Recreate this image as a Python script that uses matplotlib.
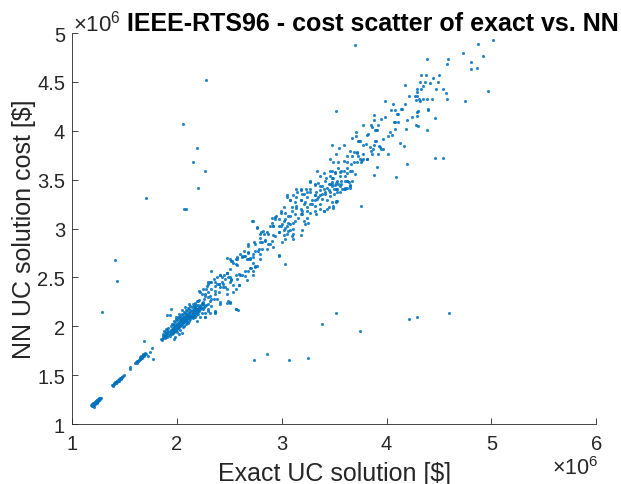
import numpy as np
import matplotlib.pyplot as plt

# costs in units of 1e6 $  (exact, NN) pairs
cluster_a = [(1.185, 1.19), (1.19, 1.18), (1.19, 1.20), (1.195, 1.19), (1.20, 1.20), (1.20, 1.21),
             (1.20, 1.185), (1.205, 1.20), (1.21, 1.21), (1.21, 1.22), (1.21, 1.195), (1.215, 1.21),
             (1.215, 1.225), (1.22, 1.22), (1.22, 1.23), (1.22, 1.205), (1.225, 1.22), (1.225, 1.235),
             (1.23, 1.23), (1.23, 1.24), (1.235, 1.225), (1.235, 1.245), (1.24, 1.24), (1.24, 1.25),
             (1.245, 1.235), (1.25, 1.25), (1.25, 1.26), (1.255, 1.245), (1.26, 1.25), (1.26, 1.265),
             (1.265, 1.26), (1.27, 1.265), (1.275, 1.27), (1.21, 1.17), (1.24, 1.215)]

cluster_b = [(1.385, 1.395), (1.39, 1.40), (1.395, 1.39), (1.40, 1.405), (1.40, 1.415), (1.405, 1.41),
             (1.41, 1.415), (1.41, 1.425), (1.415, 1.42), (1.42, 1.43), (1.42, 1.42), (1.425, 1.435),
             (1.43, 1.44), (1.43, 1.425), (1.435, 1.445), (1.44, 1.45), (1.44, 1.435), (1.445, 1.455),
             (1.45, 1.46), (1.45, 1.445), (1.455, 1.46), (1.46, 1.47), (1.465, 1.465), (1.47, 1.475),
             (1.475, 1.48), (1.48, 1.485), (1.49, 1.49), (1.50, 1.505), (1.55, 1.56), (1.555, 1.585)]

cluster_c = [(1.60, 1.625), (1.61, 1.63), (1.615, 1.62), (1.62, 1.64), (1.625, 1.645), (1.63, 1.64),
             (1.635, 1.66), (1.64, 1.655), (1.645, 1.665), (1.65, 1.67), (1.65, 1.69), (1.655, 1.68),
             (1.66, 1.70), (1.665, 1.675), (1.67, 1.69), (1.675, 1.71), (1.68, 1.72), (1.685, 1.70),
             (1.69, 1.71), (1.70, 1.73), (1.71, 1.72), (1.72, 1.70), (1.745, 1.74), (1.76, 1.78),
             (1.69, 1.85), (1.77, 1.67)]

cluster_core = [(1.85, 1.87), (1.86, 1.86), (1.87, 1.88), (1.87, 1.90), (1.88, 1.89), (1.89, 1.91),
                (1.89, 1.88), (1.90, 1.90), (1.90, 1.92), (1.91, 1.89), (1.91, 1.93), (1.92, 1.91),
                (1.92, 1.94), (1.93, 1.92), (1.93, 1.95), (1.93, 1.90), (1.94, 1.93), (1.94, 1.96),
                (1.95, 1.94), (1.95, 1.92), (1.95, 1.97), (1.96, 1.95), (1.96, 1.98), (1.96, 1.93),
                (1.97, 1.96), (1.97, 1.99), (1.97, 1.94), (1.98, 1.97), (1.98, 2.00), (1.98, 1.95),
                (1.98, 1.89), (1.99, 1.98), (1.99, 2.01), (1.99, 1.96), (2.00, 1.99), (2.00, 2.02),
                (2.00, 1.97), (2.01, 2.00), (2.01, 2.03), (2.01, 1.98), (2.02, 2.01), (2.02, 2.04),
                (2.02, 1.99), (2.03, 2.02), (2.03, 2.05), (2.03, 2.00), (2.04, 2.03), (2.04, 2.06),
                (2.04, 2.01), (2.05, 2.04), (2.05, 2.07), (2.05, 2.02), (2.06, 2.05), (2.06, 2.08),
                (2.06, 2.03), (2.07, 2.06), (2.07, 2.09), (2.07, 2.04), (2.08, 2.07), (2.08, 2.10),
                (2.08, 2.05), (2.09, 2.08), (2.09, 2.11), (2.09, 2.06), (2.10, 2.09), (2.10, 2.12),
                (2.10, 2.07), (2.11, 2.10), (2.11, 2.13), (2.11, 2.08), (2.12, 2.11), (2.12, 2.14),
                (2.12, 2.09), (2.13, 2.12), (2.13, 2.15), (2.13, 2.10), (2.14, 2.13), (2.14, 2.16),
                (2.14, 2.11), (2.15, 2.14), (2.15, 2.17), (2.15, 2.12), (2.16, 2.15), (2.16, 2.18),
                (2.16, 2.12), (2.17, 2.16), (2.17, 2.19), (2.18, 2.17), (2.18, 2.14), (2.19, 2.18),
                (2.19, 2.15), (2.20, 2.19), (2.20, 2.16), (2.21, 2.20), (2.22, 2.21), (2.22, 2.18),
                (2.23, 2.22), (2.24, 2.19), (2.25, 2.23), (1.91, 2.12), (1.93, 2.12), (1.88, 1.95),
                (1.90, 1.97), (1.92, 1.98), (1.94, 2.00), (1.96, 2.02), (1.98, 2.04), (2.00, 2.06),
                (2.02, 2.08), (2.04, 2.10), (2.06, 2.12), (2.08, 2.14), (2.10, 2.16), (2.12, 2.18),
                (2.14, 2.20), (2.16, 2.21), (2.18, 2.22), (2.00, 1.94), (2.03, 1.96), (2.06, 1.99),
                (2.09, 2.02), (2.12, 2.05), (2.15, 2.08), (2.19, 2.05), (2.22, 2.10), (2.27, 2.09),
                (2.30, 2.16), (2.32, 2.26), (2.25, 2.25), (2.26, 2.20), (2.28, 2.22), (2.05, 1.93),
                (2.02, 1.92), (1.97, 1.87), (2.07, 2.00), (2.11, 2.03), (2.13, 2.07), (2.17, 2.10),
                (2.20, 2.13), (1.95, 2.02), (1.97, 2.05), (1.99, 2.07), (2.01, 2.09), (2.03, 2.11),
                (2.05, 2.13), (2.07, 2.15), (2.09, 2.17), (2.11, 2.19), (2.13, 2.21), (2.15, 2.23),
                (2.17, 2.24), (2.19, 2.26), (2.21, 2.27), (2.05, 2.17), (2.08, 2.20), (2.12, 2.23),
                (1.94, 2.18), (1.99, 2.10), (2.02, 2.13), (1.87, 1.92), (1.89, 1.94), (1.91, 1.96),
                (2.10, 2.04), (2.14, 2.09), (2.18, 2.12), (2.21, 2.16), (2.23, 2.19), (2.24, 2.24),
                (2.26, 2.28), (1.97, 2.01), (2.03, 2.07), (2.09, 2.13), (2.13, 2.17), (2.17, 2.20),
                (2.20, 2.22)]

band_low = [(2.24, 2.33), (2.27, 2.31), (2.30, 2.35), (2.33, 2.38), (2.36, 2.41), (2.40, 2.43),
            (2.43, 2.45), (2.46, 2.48), (2.49, 2.50), (2.52, 2.48), (2.56, 2.52), (2.59, 2.53),
            (2.62, 2.52), (2.65, 2.51), (2.68, 2.57), (2.71, 2.60), (2.75, 2.61), (2.73, 2.52),
            (2.59, 2.42), (2.56, 2.38), (2.54, 2.35), (2.48, 2.33), (2.44, 2.40), (2.41, 2.40),
            (2.40, 2.35), (2.36, 2.33), (2.35, 2.28), (2.33, 2.21), (2.30, 2.23), (2.27, 2.21),
            (2.25, 2.18), (2.24, 2.14), (2.27, 2.09), (2.32, 2.14), (2.36, 2.14), (2.41, 2.23),
            (2.48, 2.24), (2.51, 2.24), (2.56, 2.18), (2.25, 2.38), (2.29, 2.41), (2.32, 2.45),
            (2.35, 2.48), (2.38, 2.50), (2.41, 2.52), (2.45, 2.52), (2.48, 2.55), (2.51, 2.59),
            (2.54, 2.65), (2.57, 2.63), (2.56, 2.69), (2.53, 2.67), (2.51, 2.69), (2.48, 2.70),
            (2.62, 2.72), (2.57, 2.69), (2.60, 2.74), (2.64, 2.77), (2.67, 2.69), (2.70, 2.70),
            (2.68, 2.84), (2.73, 2.74), (2.75, 2.84), (2.78, 2.79), (2.72, 3.08), (2.76, 3.02),
            (2.80, 2.96), (2.79, 2.90), (2.81, 2.86), (2.84, 2.87), (2.87, 2.84), (2.91, 2.87),
            (2.94, 2.92), (2.97, 2.96), (2.97, 2.73),
            (2.57, 2.71), (2.64, 2.72), (2.68, 2.76), (2.75, 2.77), (2.79, 2.74), (2.52, 2.67),
            (2.56, 2.64), (2.68, 2.69), (2.73, 2.65), (2.76, 2.62), (2.73, 2.57), (2.65, 2.57),
            (2.60, 2.52), (2.57, 2.48), (2.51, 2.50), (2.48, 2.55), (2.43, 2.50), (2.40, 2.43),
            (2.36, 2.45), (2.33, 2.45), (2.30, 2.45), (2.44, 2.43), (2.48, 2.38), (2.52, 2.47),
            (2.59, 2.42), (2.54, 2.42), (2.67, 2.47), (2.36, 2.36), (2.28, 2.38), (2.27, 2.33),
            (2.22, 2.35), (2.30, 2.30), (2.33, 2.28), (2.38, 2.28), (2.41, 2.25), (2.36, 2.16),
            (2.30, 2.18), (2.25, 2.23), (2.20, 2.26), (2.56, 2.18), (2.49, 2.26), (2.19, 2.16),
            (2.33, 2.57), (2.41, 2.52), (2.48, 2.55), (2.51, 2.45), (2.30, 2.43), (2.38, 2.43),
            (2.46, 2.40), (2.32, 2.31), (2.21, 2.36), (2.51, 2.25), (2.36, 2.15), (2.27, 2.14)]

band_mid = [(3.02, 2.99), (3.05, 3.03), (3.08, 3.05), (3.10, 2.92), (3.03, 2.89), (3.00, 2.86),
            (3.06, 2.98), (3.11, 3.00), (3.13, 3.08), (3.16, 3.11), (3.19, 3.15), (3.24, 3.11),
            (3.27, 3.16), (2.86, 2.96), (2.83, 2.94), (2.89, 3.03), (2.92, 3.03), (2.95, 3.13),
            (2.99, 3.16), (3.02, 3.22), (3.05, 3.34), (3.08, 3.29), (2.94, 3.10), (2.91, 3.11),
            (2.97, 3.03), (3.00, 3.05), (3.03, 3.10), (3.06, 3.13), (3.10, 3.18), (3.14, 3.23),
            (3.18, 3.20), (3.21, 3.25), (3.24, 3.22), (3.29, 3.25), (3.32, 3.29), (3.37, 3.20),
            (3.33, 3.15), (3.40, 3.18), (3.45, 3.22), (3.49, 3.21), (3.52, 3.28), (3.18, 3.29),
            (3.21, 3.35), (3.24, 3.37), (3.27, 3.40), (3.14, 3.40), (3.11, 3.34), (3.14, 3.32),
            (3.18, 3.39), (3.27, 3.48), (3.32, 3.45), (3.35, 3.47), (3.38, 3.44), (3.41, 3.49),
            (3.45, 3.46), (3.48, 3.48), (3.51, 3.45), (3.48, 3.44), (3.43, 3.42), (3.40, 3.40),
            (3.37, 3.39), (3.33, 3.37), (3.32, 3.34), (3.35, 3.32), (3.38, 3.35), (3.41, 3.37),
            (3.45, 3.39), (3.50, 3.35), (3.53, 3.40), (3.56, 3.44), (3.59, 3.40), (3.62, 3.42),
            (3.65, 3.45), (3.67, 3.49), (3.62, 3.49),
            (3.34, 3.59), (3.40, 3.57), (3.46, 3.59), (3.51, 3.57), (3.57, 3.59), (3.62, 3.57),
            (3.67, 3.59), (3.70, 3.56), (3.56, 3.54), (3.48, 3.52), (3.42, 3.52), (3.37, 3.54),
            (3.27, 3.49), (3.32, 3.46), (3.37, 3.44), (3.46, 3.46), (3.52, 3.47), (3.57, 3.46),
            (3.62, 3.49), (3.65, 3.42), (3.60, 3.40), (3.52, 3.40), (3.46, 3.37), (3.41, 3.35),
            (3.37, 3.34), (3.32, 3.34), (3.27, 3.37), (3.23, 3.40), (3.18, 3.40), (3.15, 3.37),
            (3.19, 3.35), (3.24, 3.32), (3.29, 3.29), (3.34, 3.30), (3.38, 3.30), (3.43, 3.29),
            (3.48, 3.27), (3.52, 3.27), (3.37, 3.25), (3.32, 3.23), (3.27, 3.25), (3.22, 3.27),
            (3.18, 3.29), (3.13, 3.27), (3.08, 3.29), (3.05, 3.32), (3.10, 3.22), (3.14, 3.21),
            (3.19, 3.18), (3.24, 3.18), (3.40, 3.18), (3.43, 3.20), (3.32, 3.18), (2.99, 3.18),
            (3.03, 3.16), (3.08, 3.13), (3.13, 3.15), (3.18, 3.15), (3.21, 3.08), (3.22, 3.05),
            (3.25, 3.06), (3.11, 3.06), (3.06, 3.06), (3.02, 3.08), (2.97, 3.10), (2.94, 3.12),
            (2.91, 3.06), (2.73, 3.08), (2.76, 3.01), (2.92, 3.03), (2.99, 3.03), (3.03, 3.01),
            (3.08, 2.99), (3.11, 2.94), (3.05, 2.94), (3.02, 2.93), (2.97, 2.96), (2.92, 2.93),
            (2.87, 2.94), (2.82, 2.98), (2.79, 2.94), (2.74, 2.86), (2.79, 2.86), (2.84, 2.88),
            (2.89, 2.84), (2.92, 2.81), (2.86, 2.79), (2.81, 2.79), (2.77, 2.77), (2.68, 2.82),
            (2.68, 2.75), (2.65, 2.72), (2.62, 2.71), (2.70, 2.69), (2.73, 2.71), (2.79, 2.69),
            (2.75, 2.62), (2.70, 2.60), (2.97, 2.72), (3.03, 2.64), (3.11, 2.89), (3.18, 2.93),
            (3.19, 2.99)]

band_high = [(3.72, 3.78), (3.67, 3.74), (3.62, 3.74), (3.69, 3.78), (3.65, 3.79), (3.59, 3.85),
             (3.55, 3.82), (3.52, 3.76), (3.48, 3.85), (3.46, 3.71), (3.49, 3.68), (3.54, 3.68),
             (3.59, 3.69), (3.62, 3.68), (3.66, 3.66), (3.69, 3.68), (3.72, 3.68), (3.76, 3.68),
             (3.75, 3.71), (3.78, 3.71), (3.81, 3.71), (3.65, 3.59), (3.62, 3.62), (3.59, 3.59),
             (3.60, 3.54), (3.56, 3.58), (3.54, 3.62), (3.51, 3.58), (3.48, 3.59), (3.46, 3.54),
             (3.49, 3.52), (3.53, 3.49), (3.57, 3.49), (3.60, 3.49), (3.64, 3.48), (3.65, 3.44),
             (3.60, 3.42), (3.58, 3.40), (3.54, 3.46), (3.48, 3.46), (3.50, 3.40), (3.53, 3.37),
             (3.56, 3.37), (3.46, 3.33), (3.53, 3.28), (3.49, 3.23),
             (4.39, 4.73), (4.585, 4.73), (4.575, 4.68), (4.33, 4.57), (4.375, 4.57), (4.505, 4.57),
             (4.44, 4.54), (4.415, 4.49), (4.37, 4.50), (4.32, 4.50), (4.49, 4.50), (4.18, 4.47),
             (4.35, 4.46), (4.29, 4.43), (4.33, 4.43), (4.47, 4.43), (4.536, 4.43), (4.29, 4.40),
             (4.568, 4.39), (4.21, 4.36), (4.27, 4.36), (4.29, 4.36), (4.31, 4.33), (4.35, 4.33),
             (4.39, 4.33), (4.43, 4.33), (4.58, 4.33), (4.32, 4.31), (4.28, 4.32), (3.99, 4.31),
             (4.06, 4.27), (4.18, 4.27), (4.29, 4.19), (4.40, 4.21), (4.29, 4.15), (4.04, 4.21),
             (4.14, 4.22), (4.08, 4.21), (4.10, 4.17), (4.11, 4.17), (4.24, 4.14), (4.20, 4.11),
             (4.11, 4.09), (4.07, 4.09), (4.08, 4.09), (3.99, 4.14), (3.95, 4.12), (4.46, 4.13),
             (3.88, 4.16), (3.88, 4.11), (3.85, 4.06), (3.86, 4.04), (3.78, 4.06), (3.91, 4.01),
             (3.90, 4.01), (3.89, 4.01), (3.92, 4.06), (4.19, 4.02), (4.28, 4.06), (4.30, 4.05),
             (4.39, 4.01), (4.08, 4.02), (4.03, 3.99), (3.97, 3.92), (4.05, 3.96), (4.01, 3.95),
             (3.81, 3.96), (3.71, 3.99), (3.67, 3.93), (3.73, 3.90), (3.75, 3.90), (3.71, 3.95),
             (3.78, 3.86), (3.80, 3.87), (3.84, 3.83), (3.89, 3.90), (3.90, 3.90), (3.94, 3.83),
             (3.97, 3.81), (3.87, 3.81), (3.85, 3.79), (4.13, 3.88), (4.17, 3.84), (3.92, 3.76),
             (3.86, 3.76), (4.01, 3.76), (3.78, 3.76), (3.77, 3.70), (3.81, 3.71), (3.73, 3.74),
             (3.72, 3.77), (3.91, 3.63), (3.88, 3.55), (4.09, 3.53), (4.20, 3.66), (4.46, 3.72),
             (4.54, 3.72), (4.15, 4.22), (4.30, 4.20), (4.40, 4.22), (3.82, 3.97), (3.74, 3.90),
             (3.93, 3.84), (3.95, 3.81), (3.88, 3.86)]

outliers = [(3.70, 4.88), (2.28, 4.52), (2.06, 4.07), (2.19, 3.82), (2.15, 3.68), (2.27, 3.59),
            (2.20, 3.41), (2.07, 3.20), (2.09, 3.20), (1.71, 3.31), (1.41, 2.68), (1.43, 2.46),
            (1.29, 2.15), (2.58, 2.17), (2.74, 1.65), (2.86, 1.72), (3.07, 1.66), (3.25, 1.68),
            (3.38, 2.02), (3.52, 2.14), (3.75, 1.95), (4.21, 2.07), (4.29, 2.09), (4.60, 2.14),
            (3.52, 4.20), (3.76, 3.23), (4.97, 4.41), (4.75, 4.31), (5.02, 4.93), (4.92, 4.77),
            (4.87, 4.89), (4.73, 4.80), (4.81, 4.70), (4.86, 4.64), (4.81, 4.63)]

groups = [cluster_a, cluster_b, cluster_c, cluster_core, band_low, band_mid, band_high, outliers]
pts = np.array([p for g in groups for p in g])
exact_cost = pts[:, 0]
nn_cost = pts[:, 1]

plt.rcParams['font.family'] = ['Liberation Sans', 'DejaVu Sans']
plt.rcParams['mathtext.fontset'] = 'custom'
plt.rcParams['mathtext.rm'] = 'Liberation Sans'

fig = plt.figure(figsize=(6.21, 4.85), dpi=100)
ax = fig.add_axes([0.116, 0.1237, 0.844, 0.806])

ax.scatter(exact_cost, nn_cost, s=5, marker='o', color='#0072BD', linewidths=0, alpha=0.85)

ax.set_xlim(1, 6)
ax.set_ylim(1, 5)
ax.set_xticks([1, 2, 3, 4, 5, 6])
ax.set_yticks([1, 1.5, 2, 2.5, 3, 3.5, 4, 4.5, 5])
ax.set_yticklabels(['1', '1.5', '2', '2.5', '3', '3.5', '4', '4.5', '5'])

for s in ['top', 'right']:
    ax.spines[s].set_visible(False)
for s in ['left', 'bottom']:
    ax.spines[s].set_color('#262626')
    ax.spines[s].set_linewidth(0.6)
ax.tick_params(direction='in', length=4, width=0.6, colors='#262626', labelsize=14.5)
ax.tick_params(axis='x', pad=7)
ax.tick_params(axis='y', pad=5)

ax.set_xlabel('Exact UC solution [$]', fontsize=18, color='#262626', labelpad=6)
ax.set_ylabel('NN UC solution cost [$]', fontsize=18, color='#262626', labelpad=1)

fig.text(0.118, 0.951, r'$\times10^{6}$', fontsize=16, color='#262626', va='center', ha='left')
fig.text(0.963, 0.034, r'$\times10^{6}$', fontsize=15.5, color='#262626', va='center', ha='right')
fig.text(0.205, 0.951, 'IEEE-RTS96 - cost scatter of exact vs. NN', fontsize=18,
         fontweight='bold', color='black', va='center', ha='left')

fig.savefig('out.png', dpi=100)
